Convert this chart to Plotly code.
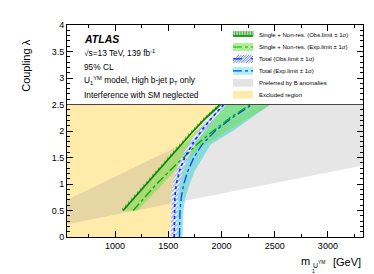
import plotly.graph_objects as go

# ---------------- data ----------------
x_range = [548, 3330]
y_range = [0, 4]
lam_top = 2.5

lam_single = [0.5, 0.75, 1.0, 1.25, 1.5, 1.75, 2.0, 2.25, 2.5]
single_obs = [1075, 1185, 1295, 1405, 1510, 1620, 1735, 1855, 1990]
single_obs_band_lo = [1050, 1160, 1270, 1380, 1485, 1595, 1710, 1830, 1965]
single_exp = [1170, 1280, 1390, 1515, 1640, 1770, 1920, 2080, 2270]
single_exp_lo = [1078, 1190, 1300, 1415, 1525, 1640, 1760, 1885, 2020]
single_exp_hi = [1210, 1330, 1450, 1560, 1700, 1850, 2050, 2260, 2460]

lam_total = [0, 0.25, 0.5, 0.75, 1.0, 1.25, 1.5, 1.75, 2.0, 2.25, 2.5]
total_obs = [1555, 1555, 1557, 1562, 1575, 1605, 1655, 1725, 1810, 1910, 2020]
total_obs_lo = [1522, 1522, 1524, 1529, 1542, 1572, 1622, 1692, 1777, 1877, 1990]
total_obs_hi = [1585, 1585, 1587, 1592, 1605, 1635, 1685, 1755, 1840, 1940, 2045]
total_exp = [1605, 1607, 1610, 1622, 1645, 1685, 1740, 1820, 1940, 2100, 2290]
total_exp_lo = [1568, 1570, 1573, 1582, 1598, 1625, 1668, 1725, 1800, 1900, 2050]
total_exp_hi = [1632, 1636, 1642, 1662, 1700, 1750, 1825, 1900, 2105, 2283, 2460]

b_lower_m = [548, 3330]
b_lower_lam = [0.24, 1.35]
b_upper_m = [548, 2400]
b_upper_lam = [0.70, 2.5]

legend_labels = [
    "Single + Non-res. (Obs.limit \u00b1 1\u03c3)",
    "Single + Non-res. (Exp.limit \u00b1 1\u03c3)",
    "Total (Obs.limit \u00b1 1\u03c3)",
    "Total (Exp.limit \u00b1 1\u03c3)",
    "Preferred by B anomalies",
    "Excluded region",
]
info_lines = [
    "\u221as=13 TeV, 139 fb<sup>-1</sup>",
    "95% CL",
    "U<sub>1</sub><sup>YM</sup> model, High b-jet p<sub>T</sub> only",
    "Interference with SM neglected",
]

# ---------------- styles ----------------
FONT = "Liberation Sans, Arial, sans-serif"
YELLOW = "rgb(255,235,170)"
GREY = "rgba(140,140,140,0.22)"
GREEN_BAND = "rgba(120,220,80,0.55)"
CYAN_BAND = "rgba(60,210,210,0.55)"
GREEN_LINE = "rgb(0,140,0)"
GREEN_EXP = "rgb(0,175,0)"
BLUE_OBS = "rgb(20,40,230)"
BLUE_EXP = "rgb(0,70,255)"

W, H = 374, 274
ML, MR, MT, MB = 59, 19, 14, 45
PW, PH = W - ML - MR, H - MT - MB


def px(x):
    return (x - ML) / PW


def py(y):
    return (H - MB - y) / PH


def band(m_lo, m_hi, lam):
    return list(m_lo) + list(m_hi)[::-1], list(lam) + list(lam)[::-1]


fig = go.Figure()

# excluded region (yellow)
ex_x = [x_range[0]] + total_obs_lo + [x_range[0]]
ex_y = [lam_total[0]] + lam_total + [lam_top]
fig.add_trace(go.Scatter(x=ex_x, y=ex_y, fill="toself", fillcolor=YELLOW,
                         mode="lines", line=dict(width=0), hoverinfo="skip"))

# B anomaly region
ba_x = [b_lower_m[0], b_lower_m[1], x_range[1], b_upper_m[1], b_upper_m[0]]
ba_y = [b_lower_lam[0], b_lower_lam[1], lam_top, b_upper_lam[1], b_upper_lam[0]]
fig.add_trace(go.Scatter(x=ba_x, y=ba_y, fill="toself", fillcolor=GREY,
                         mode="lines", line=dict(width=0), hoverinfo="skip"))

# total expected band
bx, by = band(total_exp_lo, total_exp_hi, lam_total)
fig.add_trace(go.Scatter(x=bx, y=by, fill="toself", fillcolor=CYAN_BAND,
                         mode="lines", line=dict(width=0), hoverinfo="skip"))

# single expected band
bx, by = band(single_exp_lo, single_exp_hi, lam_single)
fig.add_trace(go.Scatter(x=bx, y=by, fill="toself", fillcolor=GREEN_BAND,
                         mode="lines", line=dict(width=0), hoverinfo="skip"))

# single observed hatched band
bx, by = band(single_obs_band_lo, single_obs, lam_single)
fig.add_trace(go.Scatter(x=bx, y=by, fill="toself", fillcolor="rgba(0,0,0,0)",
                         fillpattern=dict(shape="|", fgcolor="rgb(0,130,0)",
                                          bgcolor="rgba(0,0,0,0)", size=3, solidity=0.4),
                         mode="lines", line=dict(width=0), hoverinfo="skip"))

# total observed hatched band
bx, by = band(total_obs_lo, total_obs_hi, lam_total)
fig.add_trace(go.Scatter(x=bx, y=by, fill="toself", fillcolor="white",
                         fillpattern=dict(shape="/", fgcolor="rgb(40,90,255)",
                                          bgcolor="white", size=3, solidity=0.5),
                         mode="lines", line=dict(width=0), hoverinfo="skip"))

# lines
fig.add_trace(go.Scatter(x=total_exp, y=lam_total, mode="lines",
                         line=dict(color=BLUE_EXP, width=1.3, dash="dashdot"), hoverinfo="skip"))
fig.add_trace(go.Scatter(x=single_exp, y=lam_single, mode="lines",
                         line=dict(color=GREEN_EXP, width=1.3, dash="dashdot"), hoverinfo="skip"))
fig.add_trace(go.Scatter(x=total_obs, y=lam_total, mode="lines",
                         line=dict(color=BLUE_OBS, width=1.6, dash="dot"), hoverinfo="skip"))
fig.add_trace(go.Scatter(x=single_obs, y=lam_single, mode="lines",
                         line=dict(color=GREEN_LINE, width=1.8), hoverinfo="skip"))

shapes = []
# horizontal line at the top of the data region
shapes.append(dict(type="line", xref="x", yref="y", x0=x_range[0], x1=x_range[1],
                   y0=lam_top, y1=lam_top, line=dict(color="rgb(70,70,70)", width=1)))

# ---------------- manual legend ----------------
ix0, ix1 = 225, 245
row0, drow = 24.2, 12.1
hh = 4
annotations = []
for i, lab in enumerate(legend_labels):
    cy = row0 + i * drow
    y0, y1 = py(cy + hh), py(cy - hh)
    if i == 0:
        k = ix0 + 0.8
        while k < ix1:
            shapes.append(dict(type="line", xref="paper", yref="paper", x0=px(k), x1=px(k),
                               y0=py(cy + 1), y1=py(cy - hh), line=dict(color="rgb(0,150,0)", width=0.8)))
            k += 1.6
        shapes.append(dict(type="line", xref="paper", yref="paper", x0=px(ix0), x1=px(ix1),
                           y0=py(cy + 1), y1=py(cy + 1), line=dict(color=GREEN_LINE, width=1.6)))
    elif i == 1:
        shapes.append(dict(type="rect", xref="paper", yref="paper", x0=px(ix0), x1=px(ix1),
                           y0=y0, y1=y1, fillcolor="rgb(175,240,150)", line=dict(width=0)))
        shapes.append(dict(type="line", xref="paper", yref="paper", x0=px(ix0), x1=px(ix1),
                           y0=py(cy), y1=py(cy), line=dict(color=GREEN_EXP, width=1.2, dash="dashdot")))
    elif i == 2:
        k = ix0 - 2
        while k < ix1:
            xa, xb = max(k, ix0), min(k + 8, ix1)
            ya = cy + hh - (xa - k)
            yb = cy + hh - (xb - k)
            shapes.append(dict(type="line", xref="paper", yref="paper", x0=px(xa), x1=px(xb),
                               y0=py(ya), y1=py(yb), line=dict(color="rgb(40,90,255)", width=0.8)))
            k += 2.5
        shapes.append(dict(type="line", xref="paper", yref="paper", x0=px(ix0), x1=px(ix1),
                           y0=py(cy), y1=py(cy), line=dict(color=BLUE_OBS, width=1.2, dash="dash")))
    elif i == 3:
        shapes.append(dict(type="rect", xref="paper", yref="paper", x0=px(ix0), x1=px(ix1),
                           y0=y0, y1=y1, fillcolor="rgb(175,240,245)", line=dict(width=0)))
        shapes.append(dict(type="line", xref="paper", yref="paper", x0=px(ix0), x1=px(ix1),
                           y0=py(cy), y1=py(cy), line=dict(color=BLUE_EXP, width=1.2, dash="dashdot")))
    elif i == 4:
        shapes.append(dict(type="rect", xref="paper", yref="paper", x0=px(ix0), x1=px(ix1),
                           y0=y0, y1=y1, fillcolor="rgb(228,228,228)", line=dict(width=0)))
    else:
        shapes.append(dict(type="rect", xref="paper", yref="paper", x0=px(ix0), x1=px(ix1),
                           y0=y0, y1=y1, fillcolor=YELLOW, line=dict(width=0)))
    annotations.append(dict(text=lab, x=px(249), y=py(cy), xref="paper", yref="paper",
                            xanchor="left", yanchor="middle", showarrow=False,
                            font=dict(family=FONT, size=6, color="black")))

# ---------------- ATLAS label and info ----------------
annotations.append(dict(text="<b><i>ATLAS</i></b>", x=px(74), y=py(28.5), xref="paper", yref="paper",
                        xanchor="left", yanchor="middle", showarrow=False,
                        font=dict(family=FONT, size=10.5, color="black")))
for i, t in enumerate(info_lines):
    annotations.append(dict(text=t, x=px(74), y=py(42 + i * 14.2), xref="paper", yref="paper",
                            xanchor="left", yanchor="middle", showarrow=False,
                            font=dict(family=FONT, size=8.3, color="black")))

# axis titles
annotations.append(dict(text="Coupling \u03bb", x=px(18), y=py(27), xref="paper", yref="paper",
                        xanchor="center", yanchor="top", textangle=-90, showarrow=False,
                        font=dict(family=FONT, size=11, color="black")))
annotations.append(dict(text="m", x=px(303.5), y=py(253.5), xref="paper", yref="paper",
                        xanchor="right", yanchor="middle", showarrow=False,
                        font=dict(family=FONT, size=11, color="black")))
annotations.append(dict(text="U", x=px(303), y=py(258), xref="paper", yref="paper",
                        xanchor="left", yanchor="middle", showarrow=False,
                        font=dict(family=FONT, size=7, color="black")))
annotations.append(dict(text="YM", x=px(307.8), y=py(254.5), xref="paper", yref="paper",
                        xanchor="left", yanchor="middle", showarrow=False,
                        font=dict(family=FONT, size=5, color="black")))
annotations.append(dict(text="1", x=px(305.5), y=py(263), xref="paper", yref="paper",
                        xanchor="center", yanchor="middle", showarrow=False,
                        font=dict(family=FONT, size=5, color="black")))
annotations.append(dict(text="[GeV]", x=px(355), y=py(254), xref="paper", yref="paper",
                        xanchor="right", yanchor="middle", showarrow=False,
                        font=dict(family=FONT, size=11, color="black")))

axis_common = dict(showgrid=False, zeroline=False, showline=True, linecolor="black", linewidth=1,
                   mirror="allticks", ticks="inside", tickcolor="black", tickwidth=1,
                   tickfont=dict(family=FONT, size=9, color="black"))

fig.update_layout(
    width=W, height=H,
    margin=dict(l=ML, r=MR, t=MT, b=MB),
    paper_bgcolor="white", plot_bgcolor="white",
    showlegend=False,
    shapes=shapes,
    annotations=annotations,
    xaxis=dict(range=x_range, dtick=500, tick0=0, ticklen=6,
               minor=dict(dtick=250, tick0=0, ticks="inside", ticklen=3, tickcolor="black"),
               **axis_common),
    yaxis=dict(range=y_range, dtick=0.5, tick0=0, ticklen=6,
               minor=dict(dtick=0.1, tick0=0, ticks="inside", ticklen=3, tickcolor="black"),
               **axis_common),
)

fig.write_html("out.html")
